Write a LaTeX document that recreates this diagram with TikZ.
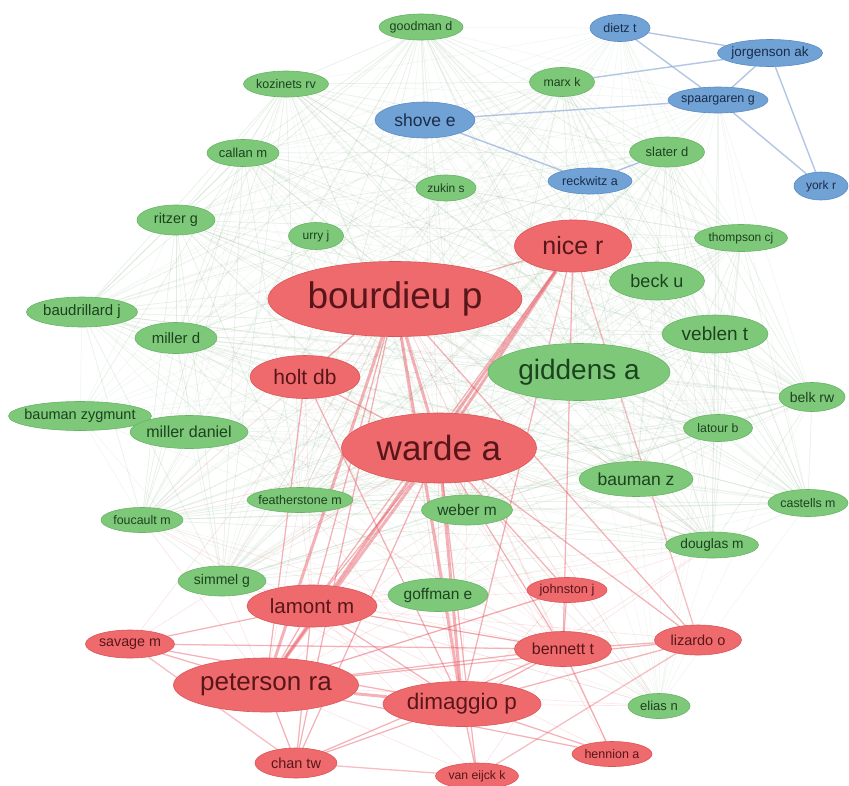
\documentclass[tikz,border=0pt]{standalone}
\usepackage{fontspec}
\setmainfont{Liberation Sans}
\usetikzlibrary{shapes.geometric,backgrounds}
\definecolor{rr}{RGB}{238,106,108}
\definecolor{rd}{RGB}{220,84,88}
\definecolor{rt}{RGB}{88,22,26}
\definecolor{gg}{RGB}{126,200,122}
\definecolor{gd}{RGB}{104,180,102}
\definecolor{gt}{RGB}{28,66,30}
\definecolor{bb}{RGB}{112,162,214}
\definecolor{bd}{RGB}{90,140,196}
\definecolor{bt}{RGB}{26,44,74}
\definecolor{ge}{RGB}{140,185,140}
\definecolor{re}{RGB}{232,86,98}
\definecolor{be}{RGB}{160,184,220}
\tikzset{
	rnode/.style={ellipse,draw=rd,fill=rr,line width=0.6pt,inner sep=0pt},
	gnode/.style={ellipse,draw=gd,fill=gg,line width=0.6pt,inner sep=0pt},
	bnode/.style={ellipse,draw=bd,fill=bb,line width=0.6pt,inner sep=0pt},
	rtext/.style={text=rt,inner sep=0pt},
	gtext/.style={text=gt,inner sep=0pt},
	btext/.style={text=bt,inner sep=0pt},
	faintedge/.style={draw=ge,draw opacity=0.13,line width=0.5pt},
	faintredge/.style={draw=re,draw opacity=0.16,line width=0.6pt},
	redge/.style={draw=re,draw opacity=0.38,line width=1.3pt},
	bigredge/.style={draw=re,draw opacity=0.45,line width=3pt},
	bedge/.style={draw=be,draw opacity=0.8,line width=1.4pt}
}
% x y name width height kind fontsize label
\newcommand{\authnode}[8]{\node[#6node,minimum width=#4pt,minimum height=#5pt] (#3) at (#1,#2) {};
	\node[#6text,font=\fontsize{#7}{#7}\selectfont] (#3-t) at (#3) {#8};}

\begin{document}
\begin{tikzpicture}[x=1pt,y=-1pt]
	\useasboundingbox (0,0) rectangle (849,785);

	% blue cluster
	\authnode{620}{28}{dietz}{60}{27}{b}{12.5}{dietz t}
	\authnode{770}{53}{jorgenson}{105}{27}{b}{13.5}{jorgenson ak}
	\authnode{718}{100}{spaargaren}{100}{26}{b}{12.5}{spaargaren g}
	\authnode{425}{120}{shove}{100}{36}{b}{17.5}{shove e}
	\authnode{590}{181}{reckwitz}{84}{26}{b}{12.5}{reckwitz a}
	\authnode{821}{186}{york}{54}{28}{b}{12}{york r}

	% green cluster
	\authnode{421}{27}{goodman}{84}{26}{g}{12.5}{goodman d}
	\authnode{286}{84}{kozinets}{85}{26}{g}{12.5}{kozinets rv}
	\authnode{562}{82}{marx}{65}{29}{g}{12.3}{marx k}
	\authnode{243}{153}{callan}{72}{27}{g}{13}{callan m}
	\authnode{667}{152}{slater}{75}{30}{g}{13}{slater d}
	\authnode{446}{188}{zukin}{60}{26}{g}{12}{zukin s}
	\authnode{176}{220}{ritzer}{78}{30}{g}{14.4}{ritzer g}
	\authnode{316}{236}{urry}{55}{27}{g}{12}{urry j}
	\authnode{741}{238}{thompson}{93}{27}{g}{12}{thompson cj}
	\authnode{657}{281}{beck}{95}{38}{g}{18}{beck u}
	\authnode{82}{312}{baudrillard}{111}{30}{g}{15}{baudrillard j}
	\authnode{176}{338}{millerd}{82}{31}{g}{15}{miller d}
	\authnode{715}{334}{veblen}{106}{38}{g}{19}{veblen t}
	\authnode{579}{372}{giddens}{182}{57}{g}{28}{giddens a}
	\authnode{812}{397}{belk}{66}{29}{g}{14}{belk rw}
	\authnode{80}{416}{baumanzyg}{143}{29}{g}{14.5}{bauman zygmunt}
	\authnode{189}{432}{millerdaniel}{118}{33}{g}{16}{miller daniel}
	\authnode{718}{428}{latour}{69}{27}{g}{12.3}{latour b}
	\authnode{636}{479}{baumanz}{114}{35}{g}{17.5}{bauman z}
	\authnode{300}{500}{featherstone}{106}{25}{g}{12.5}{featherstone m}
	\authnode{467}{510}{weber}{91}{30}{g}{15.5}{weber m}
	\authnode{808}{503}{castells}{80}{27}{g}{12.4}{castells m}
	\authnode{142}{520}{foucault}{82}{25}{g}{12.4}{foucault m}
	\authnode{712}{545}{douglas}{93}{26}{g}{13.7}{douglas m}
	\authnode{222}{581}{simmel}{88}{30}{g}{14}{simmel g}
	\authnode{438}{595}{goffman}{100}{33}{g}{15.5}{goffman e}
	\authnode{659}{706}{elias}{62}{25}{g}{13}{elias n}

	% red cluster
	\authnode{573}{246}{nicer}{117}{52}{r}{25}{nice r}
	\authnode{395}{299}{bourdieu}{254}{75}{r}{37}{bourdieu p}
	\authnode{305}{377}{holt}{110}{43}{r}{21}{holt db}
	\authnode{439}{448}{warde}{195}{70}{r}{35}{warde a}
	\authnode{567}{590}{johnston}{80}{25}{r}{12.8}{johnston j}
	\authnode{312}{606}{lamont}{130}{42}{r}{20.5}{lamont m}
	\authnode{130}{644}{savage}{89}{28}{r}{14.3}{savage m}
	\authnode{563}{649}{bennett}{97}{35}{r}{16}{bennett t}
	\authnode{698}{640}{lizardo}{87}{30}{r}{14.5}{lizardo o}
	\authnode{266}{685}{peterson}{185}{54}{r}{26}{peterson ra}
	\authnode{462}{704}{dimaggio}{158}{45}{r}{22.5}{dimaggio p}
	\authnode{296}{763}{chan}{82}{30}{r}{14.5}{chan tw}
	\authnode{477}{776}{vaneijck}{83}{26}{r}{12.2}{van eijck k}
	\authnode{612}{754}{hennion}{80}{25}{r}{12.5}{hennion a}

	\begin{pgfonlayer}{background}
		\fill[white] (0,0) rectangle (849,785);
		% faint co-citation mesh
		\foreach \s in {goodman,kozinets,marx,callan,slater,zukin,ritzer,urry,thompson,beck,baudrillard,millerd,veblen,giddens,belk,baumanzyg,millerdaniel,latour,baumanz,featherstone,weber,castells,foucault,douglas,simmel,goffman,elias,shove,reckwitz,dietz,spaargaren}
			\foreach \t in {bourdieu,warde,giddens,baudrillard,millerd,ritzer,veblen,baumanz,douglas,callan,kozinets,thompson,belk,castells,goodman,slater,marx,latour,weber,featherstone,foucault,simmel}
				\draw[faintedge] (\s.center) -- (\t.center);
		\foreach \s in {nicer,holt,johnston,lamont,savage,bennett,lizardo,chan,vaneijck,hennion,simmel,goffman,weber,featherstone,elias,foucault,douglas}
			\foreach \t in {bourdieu,warde,peterson,dimaggio,lamont,bennett}
				\draw[faintredge] (\s.center) -- (\t.center);

		\draw[bigredge] (bourdieu) -- (warde);
		\draw[bigredge] (nicer) -- (warde);
		\draw[bigredge] (nicer) -- (peterson);
		\draw[bigredge] (bourdieu) -- (peterson);
		\draw[bigredge] (warde) -- (peterson);
		\draw[bigredge] (warde) -- (dimaggio);
		\draw[bigredge] (bourdieu) -- (dimaggio);
		\draw[bigredge] (peterson) -- (dimaggio);

		\draw[redge] (bourdieu) -- (lamont);
		\draw[redge] (bourdieu) -- (holt);
		\draw[redge] (bourdieu) -- (nicer);
		\draw[redge] (bourdieu) -- (lizardo);
		\draw[redge] (bourdieu) -- (chan);
		\draw[redge] (warde) -- (lamont);
		\draw[redge] (warde) -- (bennett);
		\draw[redge] (warde) -- (holt);
		\draw[redge] (warde) -- (chan);
		\draw[redge] (warde) -- (vaneijck);
		\draw[redge] (warde) -- (lizardo);
		\draw[redge] (warde) -- (johnston);
		\draw[redge] (nicer) -- (lizardo);
		\draw[redge] (nicer) -- (bennett);
		\draw[redge] (nicer) -- (dimaggio);
		\draw[redge] (nicer) -- (lamont);
		\draw[redge] (holt) -- (peterson);
		\draw[redge] (holt) -- (dimaggio);
		\draw[redge] (peterson) -- (lamont);
		\draw[redge] (peterson) -- (savage);
		\draw[redge] (peterson) -- (chan);
		\draw[redge] (peterson) -- (bennett);
		\draw[redge] (peterson) -- (lizardo);
		\draw[redge] (peterson) -- (hennion);
		\draw[redge] (peterson) -- (johnston);
		\draw[redge] (dimaggio) -- (chan);
		\draw[redge] (dimaggio) -- (vaneijck);
		\draw[redge] (dimaggio) -- (bennett);
		\draw[redge] (dimaggio) -- (lizardo);
		\draw[redge] (dimaggio) -- (hennion);
		\draw[redge] (dimaggio) -- (savage);
		\draw[redge] (lamont) -- (dimaggio);
		\draw[redge] (lamont) -- (bennett);
		\draw[redge] (lamont) -- (chan);
		\draw[redge] (lamont) -- (savage);
		\draw[redge] (bennett) -- (lizardo);
		\draw[redge] (bennett) -- (savage);
		\draw[redge] (bennett) -- (hennion);
		\draw[redge] (bennett) -- (johnston);
		\draw[redge] (bennett) -- (chan);
		\draw[redge] (chan) -- (vaneijck);
		\draw[redge] (savage) -- (chan);
		\draw[redge] (vaneijck) -- (lizardo);

		\draw[bedge] (dietz) -- (jorgenson);
		\draw[bedge] (dietz) -- (spaargaren);
		\draw[bedge] (jorgenson) -- (spaargaren);
		\draw[bedge] (jorgenson) -- (york);
		\draw[bedge] (spaargaren) -- (york);
		\draw[bedge] (shove) -- (spaargaren);
		\draw[bedge] (shove) -- (reckwitz);
		\draw[bedge] (jorgenson) -- (marx);
		\draw[bedge] (reckwitz) -- (slater);
	\end{pgfonlayer}
\end{tikzpicture}
\end{document}
